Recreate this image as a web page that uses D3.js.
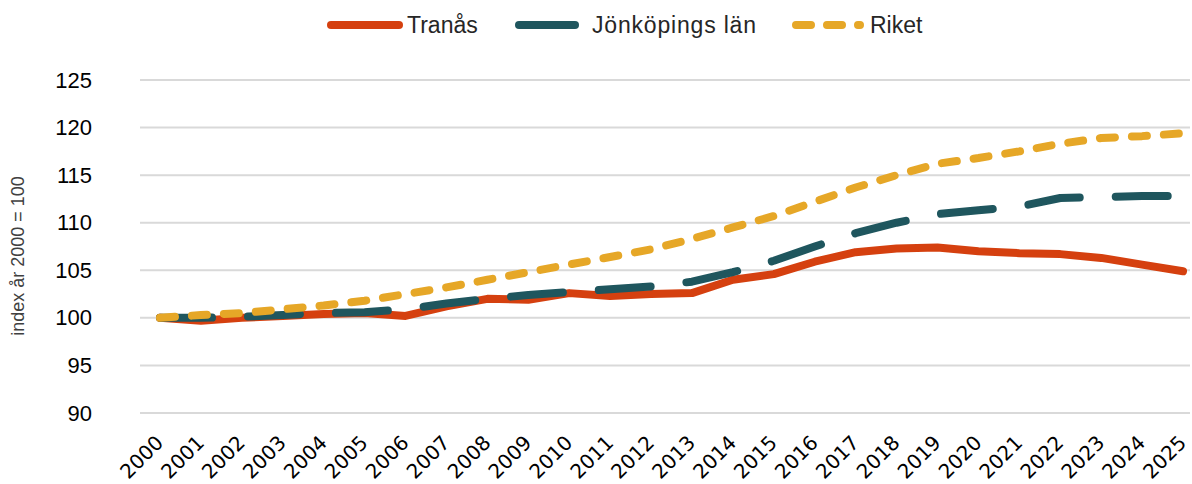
<!DOCTYPE html>
<html>
<head>
<meta charset="utf-8">
<title>Befolkningsutveckling index</title>
<style type="text/css">
body {margin: 0; background: #fff;}
.grid line {stroke: #d9d9d9; stroke-width: 2;}
.axis .domain {display: none;}
.axis line {display: none;}
</style>
</head>
<body>
<svg width="1192" height="484"></svg>
<script src="https://d3js.org/d3.v7.min.js"></script>
<script>
var years = d3.range(2000, 2026);
var yTicks = [90, 95, 100, 105, 110, 115, 120, 125];
var tranas = [100, 99.7, 100.0, 100.2, 100.4, 100.5, 100.2, 101.2, 102.0, 101.9, 102.6, 102.3, 102.5, 102.6,
    104.0, 104.6, 105.9, 106.9, 107.3, 107.4, 107.0, 106.8, 106.7, 106.3, 105.6, 104.9];
var jonkoping = [100, 100.0, 100.1, 100.3, 100.5, 100.6, 100.9, 101.5, 102.0, 102.4, 102.7, 103.0, 103.3, 103.8,
    104.8, 106.0, 107.5, 108.9, 110.0, 110.9, 111.3, 111.7, 112.6, 112.7, 112.8, 112.8];
var riket = [100, 100.3, 100.5, 100.9, 101.3, 101.8, 102.5, 103.2, 104.0, 104.8, 105.6, 106.4, 107.2, 108.3,
    109.5, 110.7, 112.2, 113.7, 115.0, 116.2, 116.8, 117.5, 118.3, 118.9, 119.1, 119.4];

var series = [
    {name: "Tranås", values: tranas, color: "#d5400f", dash: null},
    {name: "Jönköpings län", values: jonkoping, color: "#1f565e", dash: "52,36"},
    {name: "Riket", values: riket, color: "#e6a727", dash: "15,17"}
];

var svg = d3.select("svg");
var x = d3.scaleLinear().domain([2000, 2025]).range([160, 1183]);
var y = d3.scaleLinear().domain([90, 125]).range([413, 80]);

// gridlines
svg.append("g")
    .attr("class", "grid")
    .selectAll("line")
    .data(yTicks)
    .enter().append("line")
    .attr("x1", 140)
    .attr("x2", 1190)
    .attr("y1", function(d) { return y(d); })
    .attr("y2", function(d) { return y(d); });

// y axis
svg.append("g")
    .attr("class", "axis")
    .attr("transform", "translate(100,0)")
    .call(d3.axisLeft(y).tickValues(yTicks).tickSize(0).tickPadding(8))
    .selectAll("text")
    .attr("font-family", "Liberation Sans, Arial, sans-serif")
    .attr("font-size", 22)
    .attr("fill", "#000");

// x axis
var xa = svg.append("g")
    .attr("class", "axis")
    .attr("transform", "translate(0,420)")
    .call(d3.axisBottom(x).tickValues(years).tickFormat(d3.format("d")).tickSize(0));
xa.selectAll("text")
    .attr("font-family", "DejaVu Sans, sans-serif")
    .attr("font-size", 20)
    .attr("fill", "#000")
    .attr("text-anchor", "end")
    .attr("dy", "0.7em")
    .attr("transform", "translate(-8,12) rotate(-45)");

// y title
svg.append("text")
    .attr("transform", "translate(24,256) rotate(-90)")
    .attr("text-anchor", "middle")
    .attr("font-family", "Liberation Sans, sans-serif")
    .attr("font-size", 18)
    .attr("fill", "#404040")
    .text("index år 2000 = 100");

var line = d3.line()
    .x(function(d, i) { return x(years[i]); })
    .y(function(d) { return y(d); });

svg.append("g")
    .selectAll("path")
    .data(series)
    .enter().append("path")
    .attr("d", function(d) { return line(d.values); })
    .attr("fill", "none")
    .attr("stroke", function(d) { return d.color; })
    .attr("stroke-width", 8)
    .attr("stroke-linecap", "round")
    .attr("stroke-linejoin", "round")
    .attr("stroke-dasharray", function(d) { return d.dash; });

// legend
var legendX = [331, 519, 796];
var legendLen = [68, 56, 64];
var legendText = [76, 73, 74];
var legend = svg.append("g")
    .selectAll("g")
    .data(series)
    .enter().append("g")
    .attr("transform", function(d, i) { return "translate(" + legendX[i] + ",25)"; });
legend.append("line")
    .attr("x1", 0)
    .attr("x2", function(d, i) { return legendLen[i]; })
    .attr("stroke", function(d) { return d.color; })
    .attr("stroke-width", 8)
    .attr("stroke-linecap", "round")
    .attr("stroke-dasharray", function(d, i) { return i == 2 ? "15,16" : null; });
legend.append("text")
    .attr("x", function(d, i) { return legendText[i]; })
    .attr("dy", "0.35em")
    .attr("font-family", "Liberation Sans, sans-serif")
    .attr("font-size", 23)
    .attr("fill", "#262626")
    .attr("textLength", function(d, i) { return i == 1 ? 164 : null; })
    .text(function(d) { return d.name; });
</script>
</body>
</html>
